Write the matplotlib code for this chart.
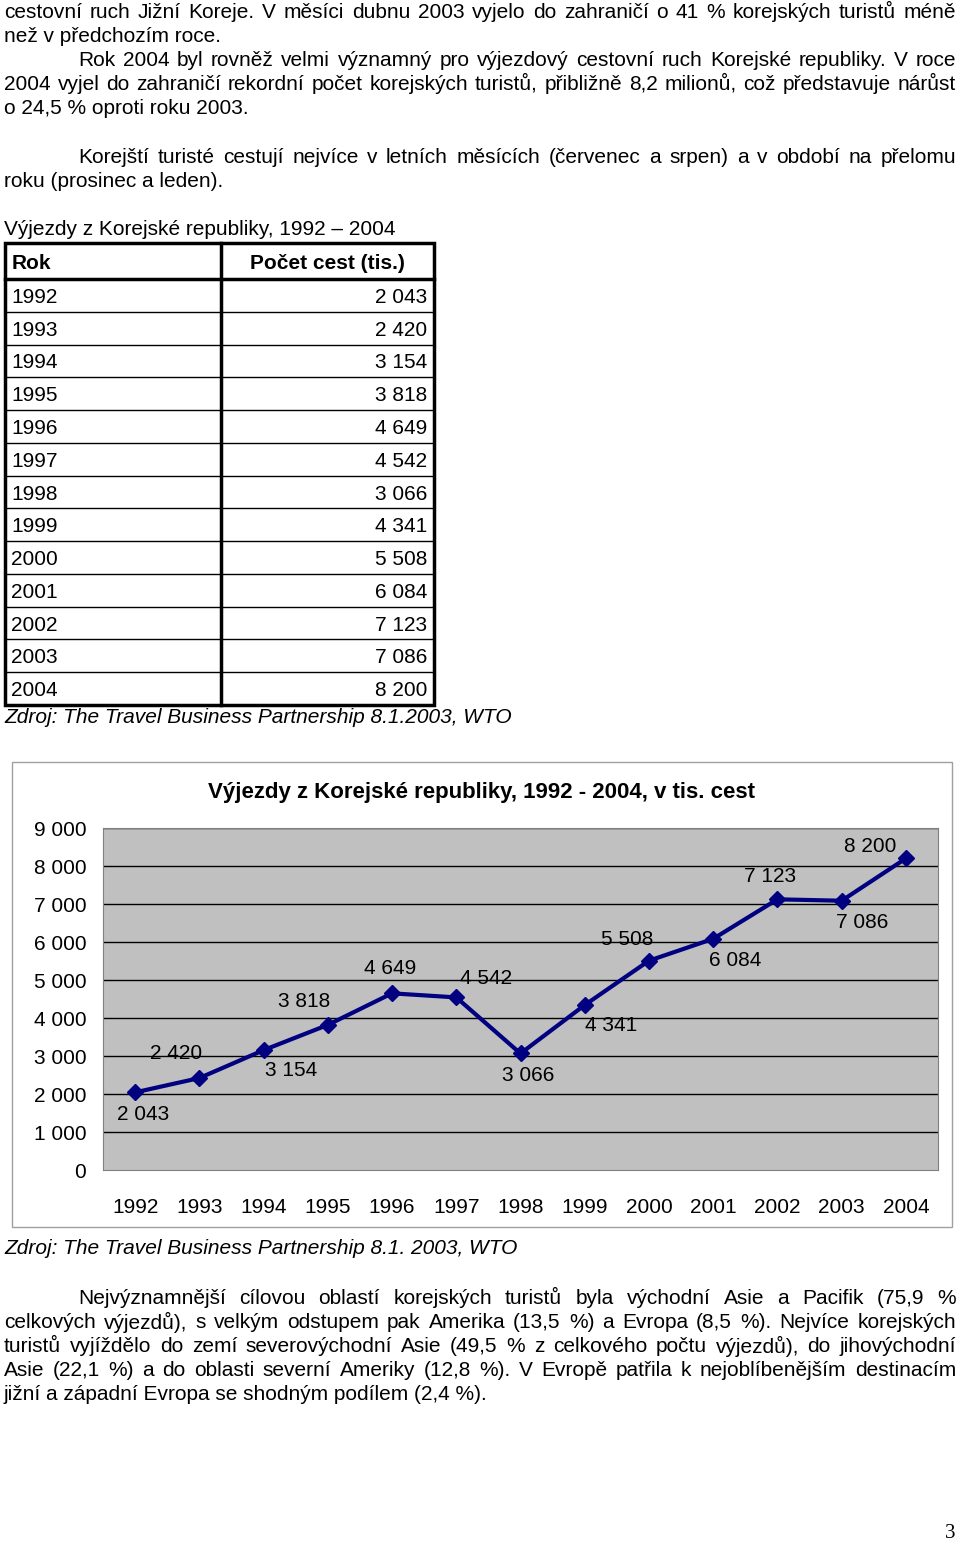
import matplotlib.pyplot as plt
from matplotlib.patches import Rectangle

years = [1992, 1993, 1994, 1995, 1996, 1997, 1998, 1999, 2000, 2001, 2002, 2003, 2004]
trips = [2043, 2420, 3154, 3818, 4649, 4542, 3066, 4341, 5508, 6084, 7123, 7086, 8200]
labels = ['2 043', '2 420', '3 154', '3 818', '4 649', '4 542', '3 066',
          '4 341', '5 508', '6 084', '7 123', '7 086', '8 200']
yticks = [0, 1000, 2000, 3000, 4000, 5000, 6000, 7000, 8000, 9000]
ytick_labels = ['0', '1 000', '2 000', '3 000', '4 000', '5 000', '6 000',
                '7 000', '8 000', '9 000']

FONT = 'Liberation Sans'
FS = 15

fig = plt.figure(figsize=(9.6, 15.41), dpi=100)
page = fig.add_axes([0, 0, 1, 1])
page.set_xlim(0, 960)
page.set_ylim(1541, 0)
page.axis('off')
renderer = fig.canvas.get_renderer()

def txt(x, y, s, **kw):
    kw.setdefault('fontsize', FS)
    kw.setdefault('family', FONT)
    return page.text(x, y, s, va='center', **kw)

def justified(x, y, s, right=956):
    # spread words so the line fills from x to right
    words = s.split(' ')
    arts = [txt(x, y, w) for w in words]
    widths = [a.get_window_extent(renderer).width for a in arts]
    gap = (right - x - sum(widths)) / (len(words) - 1)
    pos = x
    for a, w in zip(arts, widths):
        a.set_x(pos)
        pos += w + gap

# top paragraphs (True = justified line)
top_lines = [
    (4, 12, 'cestovní ruch Jižní Koreje. V měsíci dubnu 2003 vyjelo do zahraničí o 41 % korejských turistů méně', True),
    (4, 36, 'než v předchozím roce.', False),
    (78, 60, 'Rok 2004 byl rovněž velmi významný pro výjezdový cestovní ruch Korejské republiky. V roce', True),
    (4, 84, '2004 vyjel do zahraničí rekordní počet korejských turistů, přibližně 8,2 milionů, což představuje nárůst', True),
    (4, 108, 'o 24,5 % oproti roku 2003.', False),
    (78, 157, 'Korejští turisté cestují nejvíce v letních měsících (červenec a srpen) a v období na přelomu', True),
    (4, 181, 'roku (prosinec a leden).', False),
    (4, 229, 'Výjezdy z Korejské republiky, 1992 – 2004', False),
]
for x, y, s, j in top_lines:
    justified(x, y, s) if j else txt(x, y, s)

# table
t_left, t_mid, t_right = 5, 221, 434
t_top, h_bot, t_bot = 243, 279, 705
row_h = (t_bot - h_bot) / len(years)
page.add_patch(Rectangle((t_left, t_top), t_right - t_left, t_bot - t_top,
                         fill=False, lw=2.5, ec='black'))
page.plot([t_left, t_right], [h_bot, h_bot], color='black', lw=2.5)
page.plot([t_mid, t_mid], [t_top, t_bot], color='black', lw=2.5)
txt(12, 263, 'Rok', weight='bold')
txt(405, 263, 'Počet cest (tis.)', weight='bold', ha='right')
for i, (yr, lab) in enumerate(zip(years, labels)):
    yc = h_bot + row_h * (i + 0.5) + 2
    txt(11, yc, str(yr))
    txt(427, yc, lab, ha='right')
    if i > 0:
        yl = h_bot + row_h * i
        page.plot([t_left, t_right], [yl, yl], color='black', lw=1)
txt(4, 717, 'Zdroj: The Travel Business Partnership 8.1.2003, WTO', style='italic')

# chart frame
page.add_patch(Rectangle((12, 762), 940, 465, fill=False, lw=1, ec='#a0a0a0'))
txt(482, 792, 'Výjezdy z Korejské republiky, 1992 - 2004, v tis. cest',
    weight='bold', ha='center', fontsize=16)

W, H = 960, 1541
x0, x1, yt, yb = 103, 938, 828, 1170
ax = fig.add_axes([x0 / W, 1 - yb / H, (x1 - x0) / W, (yb - yt) / H])
ax.set_facecolor('#c0c0c0')
xs = list(range(1, len(years) + 1))
ax.set_xlim(0.5, len(years) + 0.5)
ax.set_ylim(0, 9000)
for v in yticks[1:]:
    ax.axhline(v, color='black', lw=1, zorder=1)
ax.plot(xs, trips, color='#000080', lw=3, marker='D', ms=8, zorder=3)
ax.set_yticks(yticks)
ax.set_yticklabels(ytick_labels, family=FONT, fontsize=FS)
ax.set_xticks(xs)
ax.set_xticklabels([str(y) for y in years], family=FONT, fontsize=FS)
ax.tick_params(length=0, pad=12, axis='y')
ax.tick_params(length=0, pad=20, axis='x')
for s in ax.spines.values():
    s.set_color('#808080')

offsets = [(8, -22), (-23, 25), (28, -20), (-24, 23), (-2, 25), (30, 19),
           (8, -22), (26, -20), (-22, 21), (22, -22), (-7, 23), (21, -22), (-36, 12)]
for x, v, lab, (dx, dy) in zip(xs, trips, labels, offsets):
    ax.annotate(lab, (x, v), xytext=(dx, dy), textcoords='offset pixels',
                ha='center', va='center', family=FONT, fontsize=FS)

txt(4, 1249, 'Zdroj: The Travel Business Partnership 8.1. 2003, WTO', style='italic')

bottom_lines = [
    (78, 1298, 'Nejvýznamnější cílovou oblastí korejských turistů byla východní Asie a Pacifik (75,9 %', True),
    (4, 1322, 'celkových výjezdů), s velkým odstupem pak Amerika (13,5 %) a Evropa (8,5 %). Nejvíce korejských', True),
    (4, 1346, 'turistů vyjíždělo do zemí severovýchodní Asie (49,5 % z celkového počtu výjezdů), do jihovýchodní', True),
    (4, 1370, 'Asie (22,1 %) a do oblasti severní Ameriky (12,8 %). V Evropě patřila k nejoblíbenějším destinacím', True),
    (4, 1394, 'jižní a západní Evropa se shodným podílem (2,4 %).', False),
]
for x, y, s, j in bottom_lines:
    justified(x, y, s) if j else txt(x, y, s)

txt(955, 1533, '3', ha='right', family='Liberation Serif')

fig.savefig('out.png', dpi=100)
